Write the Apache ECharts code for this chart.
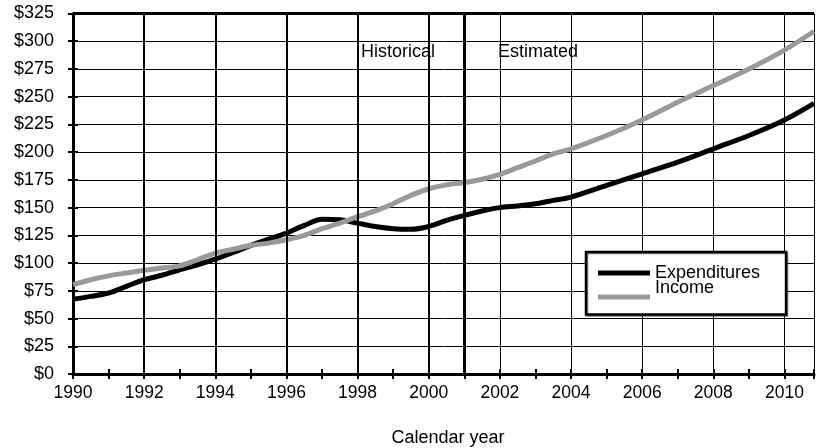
<!DOCTYPE html>
<html><head><meta charset="utf-8">
<script src="https://cdn.jsdelivr.net/npm/echarts@6/dist/echarts.min.js"></script>
<style>html,body{margin:0;padding:0;background:#fff}#c{width:817px;height:448px}</style>
</head><body><div id="c"></div>
<script>
const FONT = '"Liberation Sans", Arial, sans-serif';

// Expenditures (billions of dollars)
const expYears  = [1990,1990.5,1991,1991.5,1992,1992.5,1993,1993.5,1994,1994.5,1995,1995.5,1996,1996.5,1997,1997.5,1998,1998.5,1999,1999.5,2000,2000.5,2001,2001.5,2002,2002.5,2003,2003.5,2004,2005,2006,2007,2008,2009,2010,2010.83];
const expValues = [67.5,70,73,79,85,89,94,98.5,103.5,109.5,116,121.5,127,134,139.5,139,136,133,131,130.5,133,138.5,143,147,150,151.5,153.5,156.5,159.5,170,180.5,191,203,215,229,244];

// Income (billions of dollars)
const incYears  = [1990,1990.5,1991,1991.5,1992,1992.5,1993,1993.5,1994,1994.5,1995,1995.5,1996,1996.5,1997,1997.5,1998,1998.5,1999,1999.5,2000,2000.5,2001,2001.5,2002,2002.5,2003,2003.5,2004,2005,2006,2007,2008,2009,2010,2010.83];
const incValues = [80.5,85,88.5,91,93.5,95.5,97.5,103,109,112.5,116,118,121,125,131,136,141.8,147,153.5,161,167,170.5,172.6,175.6,180,186,192,198.5,203,215,229,245,260,275,292,309];

const seriesNames = ['Expenditures', 'Income'];
const xMin = 1990, xMax = 2010.83;
const yMin = 0, yMax = 325, yStep = 25;
const boldYears = [1992, 1994, 1996, 1998, 2000];
const dividerYear = 2001;
const periodLabels = ['Historical', 'Estimated'];
const xAxisTitle = 'Calendar year';

const zip = (a, b) => a.map((v, i) => [v, b[i]]);

const chart = echarts.init(document.getElementById('c'), null, {renderer: 'canvas'});
const black = '#000';
const grey = '#999999';

const baseX = {type: 'value', min: xMin, max: xMax, position: 'bottom'};
const baseY = {type: 'value', min: yMin, max: yMax, interval: yStep, position: 'left'};
const legendText = {fontSize: 18, fontFamily: FONT, color: black, lineHeight: 18};

chart.setOption({
  animation: false,
  backgroundColor: '#fff',
  grid: {left: 73, right: -3, top: 13.5, bottom: 74, containLabel: false},
  xAxis: [
    Object.assign({}, baseX, {
      interval: 1,
      axisLine: {show: true, onZero: false, lineStyle: {color: black, width: 3}},
      axisTick: {show: true, length: 5, lineStyle: {color: black, width: 2}},
      axisLabel: {margin: 10, color: black, fontSize: 17.5, fontFamily: FONT,
        formatter: v => (Number.isInteger(v) && v % 2 === 0) ? String(v) : ''},
      splitLine: {show: false}
    }),
    Object.assign({}, baseX, {
      interval: 1,
      axisLine: {show: false, onZero: false},
      axisTick: {show: true, inside: true, length: 5, lineStyle: {color: black, width: 2}},
      axisLabel: {show: false},
      splitLine: {show: false}
    }),
    Object.assign({}, baseX, {
      interval: 2,
      axisLine: {show: false, onZero: false},
      axisTick: {show: false},
      axisLabel: {show: false},
      splitLine: {show: true, lineStyle: {color: black, width: 1}}
    })
  ],
  yAxis: [
    Object.assign({}, baseY, {
      axisLine: {show: true, onZero: false, lineStyle: {color: black, width: 3}},
      axisTick: {show: true, length: 5, lineStyle: {color: black, width: 2}},
      axisLabel: {margin: 19, color: black, fontSize: 18, fontFamily: FONT, formatter: v => '$' + v},
      splitLine: {show: true, lineStyle: {color: black, width: 1}}
    }),
    Object.assign({}, baseY, {
      axisLine: {show: false, onZero: false},
      axisTick: {show: true, inside: true, length: 5, lineStyle: {color: black, width: 2}},
      axisLabel: {show: false},
      splitLine: {show: false}
    })
  ],
  legend: [
    {
      data: [{name: seriesNames[0]}, {name: seriesNames[1], textStyle: {color: 'rgba(0,0,0,0)'}}],
      orient: 'vertical', left: 586, top: 252,
      padding: [12, 26, 8.5, 12], itemGap: 6,
      itemWidth: 52, itemHeight: 5, icon: 'rect',
      textStyle: legendText,
      borderColor: black, borderWidth: 2.5, backgroundColor: '#fff',
      shadowColor: 'rgba(0,0,0,0.5)', shadowBlur: 0, shadowOffsetX: 1, shadowOffsetY: 1,
      z: 5
    },
    {
      data: [{name: seriesNames[1]}],
      orient: 'vertical', left: 598, top: 279.3, padding: 0,
      itemWidth: 52, itemHeight: 5, icon: 'rect',
      itemStyle: {opacity: 0}, lineStyle: {opacity: 0},
      textStyle: legendText,
      z: 6
    }
  ],
  series: [
    {
      type: 'line', name: '_grid', data: [], silent: true, z: 1,
      markLine: {
        silent: true, symbol: 'none', label: {show: false}, animation: false,
        data: boldYears.map(y => ({xAxis: y, lineStyle: {color: black, width: 2, type: 'solid'}}))
          .concat([{xAxis: dividerYear, lineStyle: {color: black, width: 3, type: 'solid'}},
                   {yAxis: yMax, lineStyle: {color: black, width: 3, type: 'solid'}}])
      }
    },
    {
      type: 'line', name: seriesNames[0], data: zip(expYears, expValues),
      symbol: 'none', smooth: 0.3, z: 3, color: black,
      lineStyle: {color: black, width: 5}
    },
    {
      type: 'line', name: seriesNames[1], data: zip(incYears, incValues),
      symbol: 'none', smooth: 0.3, z: 4, color: grey,
      lineStyle: {color: grey, width: 5}
    }
  ],
  graphic: [
    {type: 'text', x: 361, y: 52, z: 10, style: {text: periodLabels[0], font: '18px ' + FONT, fill: black, verticalAlign: 'middle'}},
    {type: 'text', x: 498, y: 52, z: 10, style: {text: periodLabels[1], font: '18px ' + FONT, fill: black, verticalAlign: 'middle'}},
    {type: 'text', x: 448, y: 438, z: 10, style: {text: xAxisTitle, font: '18px ' + FONT, fill: black, align: 'center', verticalAlign: 'middle'}}
  ]
});
</script>
</body></html>
